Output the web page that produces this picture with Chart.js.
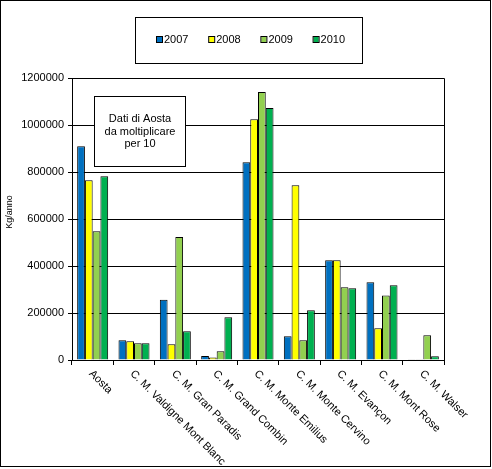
<!DOCTYPE html>
<html>
<head>
<meta charset="utf-8">
<script src="https://cdn.jsdelivr.net/npm/chart.js@4"></script>
<style>
  html, body { margin: 0; padding: 0; background: #fff; }
  #wrap { width: 492px; height: 469px; }
</style>
</head>
<body>
<div id="wrap"><canvas id="rifiutiChart" width="492" height="469"></canvas></div>
<script>
const CATEGORIE = ['Aosta', 'C. M. Valdigne Mont Blanc', 'C. M. Gran Paradis', 'C. M. Grand Combin',
    'C. M. Monte Emilius', 'C. M. Monte Cervino', 'C. M. Evançon', 'C. M. Mont Rose', 'C. M. Walser'];
const ANNI = ['2007', '2008', '2009', '2010'];
const DATI_2007 = [910000, 84000, 256000, 17000, 842000, 101000, 425000, 331000, 3000];
const DATI_2008 = [765000, 80000, 67000, 11000, 1025000, 744000, 425000, 135000, 3000];
const DATI_2009 = [548000, 71000, 523000, 37000, 1140000, 84000, 310000, 275000, 105000];
const DATI_2010 = [782000, 71000, 122000, 182000, 1072000, 212000, 305000, 318000, 16000];
const Y_TICKS = [0, 200000, 400000, 600000, 800000, 1000000, 1200000];
const NOTA = ['Dati di Aosta', 'da moltiplicare', 'per 10'];
const Y_TITOLO = 'Kg/anno';

const COLORI = ['#0070C0', '#FFFF00', '#92D050', '#00B050'];
const FONT = '"Liberation Sans", Arial, sans-serif';

// legend, note box, rotated labels and frame drawn by hand
const excelLook = {
    id: 'excelLook',
    afterDraw(chart) {
        const ctx = chart.ctx;
        const area = chart.chartArea;
        const xScale = chart.scales.x;
        ctx.save();

        // plot border top/right
        ctx.strokeStyle = '#000';
        ctx.lineWidth = 1;
        ctx.beginPath();
        ctx.moveTo(area.left, Math.round(area.top) + 0.5);
        ctx.lineTo(Math.round(area.right) + 0.5, Math.round(area.top) + 0.5);
        ctx.lineTo(Math.round(area.right) + 0.5, area.bottom);
        ctx.stroke();

        // x labels rotated clockwise
        ctx.fillStyle = '#000';
        ctx.font = '11px ' + FONT;
        ctx.textAlign = 'left';
        ctx.textBaseline = 'middle';
        CATEGORIE.forEach((lab, i) => {
            const x = xScale.getPixelForTick(i);
            ctx.save();
            ctx.translate(x - 2, area.bottom + 12);
            ctx.rotate(Math.PI / 4);
            ctx.fillText(lab, 0, 0);
            ctx.restore();
        });

        // y title
        ctx.save();
        ctx.font = '9px ' + FONT;
        ctx.textAlign = 'center';
        ctx.textBaseline = 'middle';
        ctx.translate(10, 212);
        ctx.rotate(-Math.PI / 2);
        ctx.fillText(Y_TITOLO, 0, 0);
        ctx.restore();

        // legend
        ctx.strokeRect(135.5, 17.5, 227, 46);
        ctx.font = '11px ' + FONT;
        ctx.textBaseline = 'middle';
        chart.data.datasets.forEach((ds, i) => {
            const lx = 157 + i * 52.2;
            ctx.fillStyle = ds.backgroundColor;
            ctx.fillRect(lx, 37, 5, 5);
            ctx.strokeStyle = '#000';
            ctx.strokeRect(lx - 0.5, 36.5, 6, 6);
            ctx.fillStyle = '#000';
            ctx.textAlign = 'left';
            ctx.fillText(ds.label, lx + 7, 40);
        });

        // note box
        ctx.fillStyle = '#fff';
        ctx.fillRect(94, 96, 92, 71);
        ctx.strokeRect(94.5, 96.5, 91, 70);
        ctx.fillStyle = '#000';
        ctx.textAlign = 'center';
        NOTA.forEach((r, i) => ctx.fillText(r, 140, 119 + i * 12.5));

        // outer frame
        ctx.strokeRect(0.5, 0.5, 490, 466);
        ctx.restore();
    }
};

const serie = [DATI_2007, DATI_2008, DATI_2009, DATI_2010];

new Chart(document.getElementById('rifiutiChart').getContext('2d'), {
    type: 'bar',
    data: {
        labels: CATEGORIE,
        datasets: serie.map((d, i) => ({
            label: ANNI[i],
            data: d,
            backgroundColor: COLORI[i],
            borderColor: '#000',
            borderWidth: 1,
            borderSkipped: 'bottom',
            barPercentage: 1,
            categoryPercentage: 0.75
        }))
    },
    options: {
        responsive: false,
        animation: false,
        devicePixelRatio: 1,
        layout: { padding: { top: 78, right: 48, left: 0, bottom: 0 } },
        plugins: { legend: { display: false }, tooltip: { enabled: false } },
        scales: {
            x: {
                afterFit: s => { s.height = 109; },
                grid: { display: true, offset: true, drawOnChartArea: false, color: '#000', tickLength: 5 },
                border: { color: '#000', width: 1 },
                ticks: { display: false }
            },
            y: {
                min: 0,
                max: 1200000,
                afterFit: s => { s.width = 72; },
                afterBuildTicks: s => { s.ticks = Y_TICKS.map(v => ({ value: v })); },
                grid: { color: '#000', tickLength: 4 },
                border: { color: '#000', width: 1 },
                ticks: {
                    color: '#000',
                    padding: 4,
                    font: { family: FONT, size: 11 },
                    callback: v => String(v)
                }
            }
        }
    },
    plugins: [excelLook]
});
</script>
</body>
</html>
